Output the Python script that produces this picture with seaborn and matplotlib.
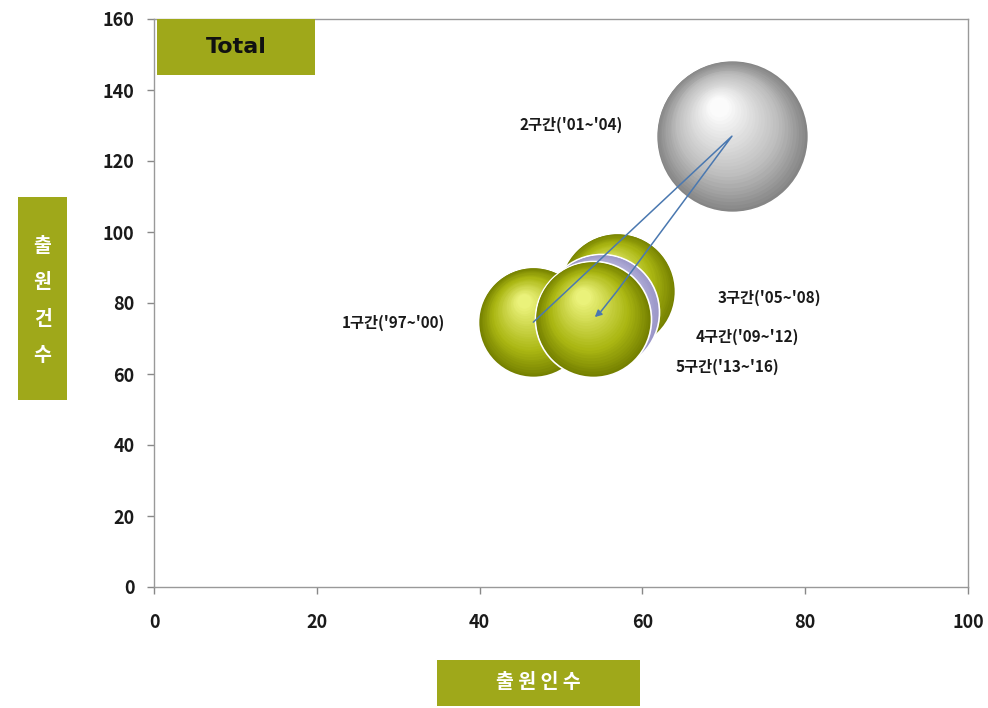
import numpy as np
import pandas as pd
import matplotlib
matplotlib.use("Agg")
import matplotlib.pyplot as plt
import matplotlib.transforms as mtransforms
from matplotlib.patches import Rectangle
from matplotlib.colors import to_rgb
import seaborn as sns

# ---- data ----
periods = ["1구간('97~'00)", "2구간('01~'04)", "3구간('05~'08)", "4구간('09~'12)", "5구간('13~'16)"]
applicants = [46.6, 71.0, 56.9, 54.9, 53.9]      # 출원인수
applications = [74.6, 127.0, 83.4, 77.6, 75.5]   # 출원건수
bubble_radius_px = [55, 76, 58, 58, 58]          # bubble size (radius)
x_ticks = [0, 20, 40, 60, 80, 100]
y_ticks = [0, 20, 40, 60, 80, 100, 120, 140, 160]

df = pd.DataFrame({"period": periods, "x": applicants, "y": applications,
                   "r": bubble_radius_px})

sns.set_theme(style="white")
plt.rcParams["font.family"] = ["Noto Sans CJK KR", "DejaVu Sans"]

fig = plt.figure(figsize=(9.88, 7.08), dpi=100)
ax = fig.add_axes([154/988, (708-587)/708, 814/988, 568/708])
ax.set_xlim(0, 100)
ax.set_ylim(0, 160)

# sphere colours
green = dict(dark="#758000", mid="#aab612", light="#eef580")
gray = dict(dark="#858585", mid="#bdbdbd", light="#ffffff")
lavender = dict(dark="#9a96c8", mid="#bdbae0", light="#e2e0f4")
palettes = [green, gray, green, lavender, green]
draw_order = [1, 2, 3, 0, 4]

def lerp(c1, c2, t):
    a, b = np.array(to_rgb(c1)), np.array(to_rgb(c2))
    return tuple(a + (b - a) * t)

# base bubbles via seaborn
pt = 72 / 100
for z, i in enumerate(draw_order):
    row = df.iloc[[i]]
    r_pt = row["r"].iloc[0] * pt
    pal = palettes[i]
    sns.scatterplot(data=row, x="x", y="y", s=(2 * r_pt) ** 2,
                    color=pal["dark"], edgecolor="white", linewidth=1.2,
                    ax=ax, legend=False, zorder=2 + z * 0.1)
    # shading layers
    n = 28
    for k in range(1, n):
        t = k / n
        rr = r_pt * (1 - 0.9 * t)
        dx, dy = -0.18 * r_pt * t, 0.40 * r_pt * t
        if t < 0.35:
            col = lerp(pal["dark"], pal["mid"], t / 0.35)
        else:
            col = lerp(pal["mid"], pal["light"], (t - 0.35) / 0.65)
        tr = ax.transData + mtransforms.ScaledTranslation(dx / 72, dy / 72, fig.dpi_scale_trans)
        ax.scatter(row["x"], row["y"], s=(2 * rr) ** 2, color=col, linewidths=0,
                   transform=tr, zorder=2 + z * 0.1 + 0.001 * k)

# path arrows
line_col = "#4a78b0"
ax.plot(applicants[:4], applications[:4], color=line_col, lw=1.1, zorder=5)
ax.annotate("", xy=(applicants[4], applications[4]), xytext=(applicants[3], applications[3]),
            arrowprops=dict(arrowstyle="-|>", color=line_col, lw=1.1, mutation_scale=10),
            zorder=5)

# labels
label_pos = [(29.4, 74.4), (51.2, 130.1), (75.6, 81.4), (72.9, 70.4), (70.4, 62.0)]
for lab, (lx, ly) in zip(periods, label_pos):
    ax.text(lx, ly, lab, ha="center", va="center", fontsize=11,
            fontweight="bold", color="#1a1a1a", zorder=6)

# axes styling
ax.set_xticks(x_ticks)
ax.set_yticks(y_ticks)
ax.set_xticklabels([str(v) for v in x_ticks])
ax.set_yticklabels([str(v) for v in y_ticks])
for lbl in ax.get_xticklabels() + ax.get_yticklabels():
    lbl.set_fontweight("bold")
    lbl.set_fontsize(13)
    lbl.set_color("#1a1a1a")
ax.tick_params(axis="both", direction="out", length=5, width=1, color="#888888")
ax.tick_params(axis="x", pad=14)
ax.tick_params(axis="y", pad=9)
ax.xaxis.set_ticks_position("bottom")
ax.yaxis.set_ticks_position("left")
for s in ax.spines.values():
    s.set_color("#999999")
    s.set_linewidth(1)
ax.set_xlabel("")
ax.set_ylabel("")
ax.grid(False)

olive = "#9fa81a"
# Total box
ax.add_patch(Rectangle((3/814, (587-75)/568), 158/814, 56/568, transform=ax.transAxes,
                       facecolor=olive, edgecolor="none", zorder=7, clip_on=False))
ax.text((3+79)/814, (587-47)/568, "Total", transform=ax.transAxes, ha="center", va="center",
        fontsize=16, fontweight="bold", color="#111111", zorder=8, family=["DejaVu Sans"])

# y label box
fig.patches.append(Rectangle((18/988, (708-400)/708), 49/988, 203/708, transform=fig.transFigure,
                             facecolor=olive, edgecolor="none", figure=fig))
fig.text(42.5/988, (708-301)/708, "출\n원\n건\n수", ha="center", va="center", color="white",
         fontsize=14, fontweight="bold", linespacing=2.15)

# x label box
fig.patches.append(Rectangle((437/988, (708-706)/708), 203/988, 46/708, transform=fig.transFigure,
                             facecolor=olive, edgecolor="none", figure=fig))
fig.text(538/988, (708-683)/708, "출 원 인 수", ha="center", va="center", color="white",
         fontsize=14, fontweight="bold")

fig.savefig("out.png", dpi=100)
